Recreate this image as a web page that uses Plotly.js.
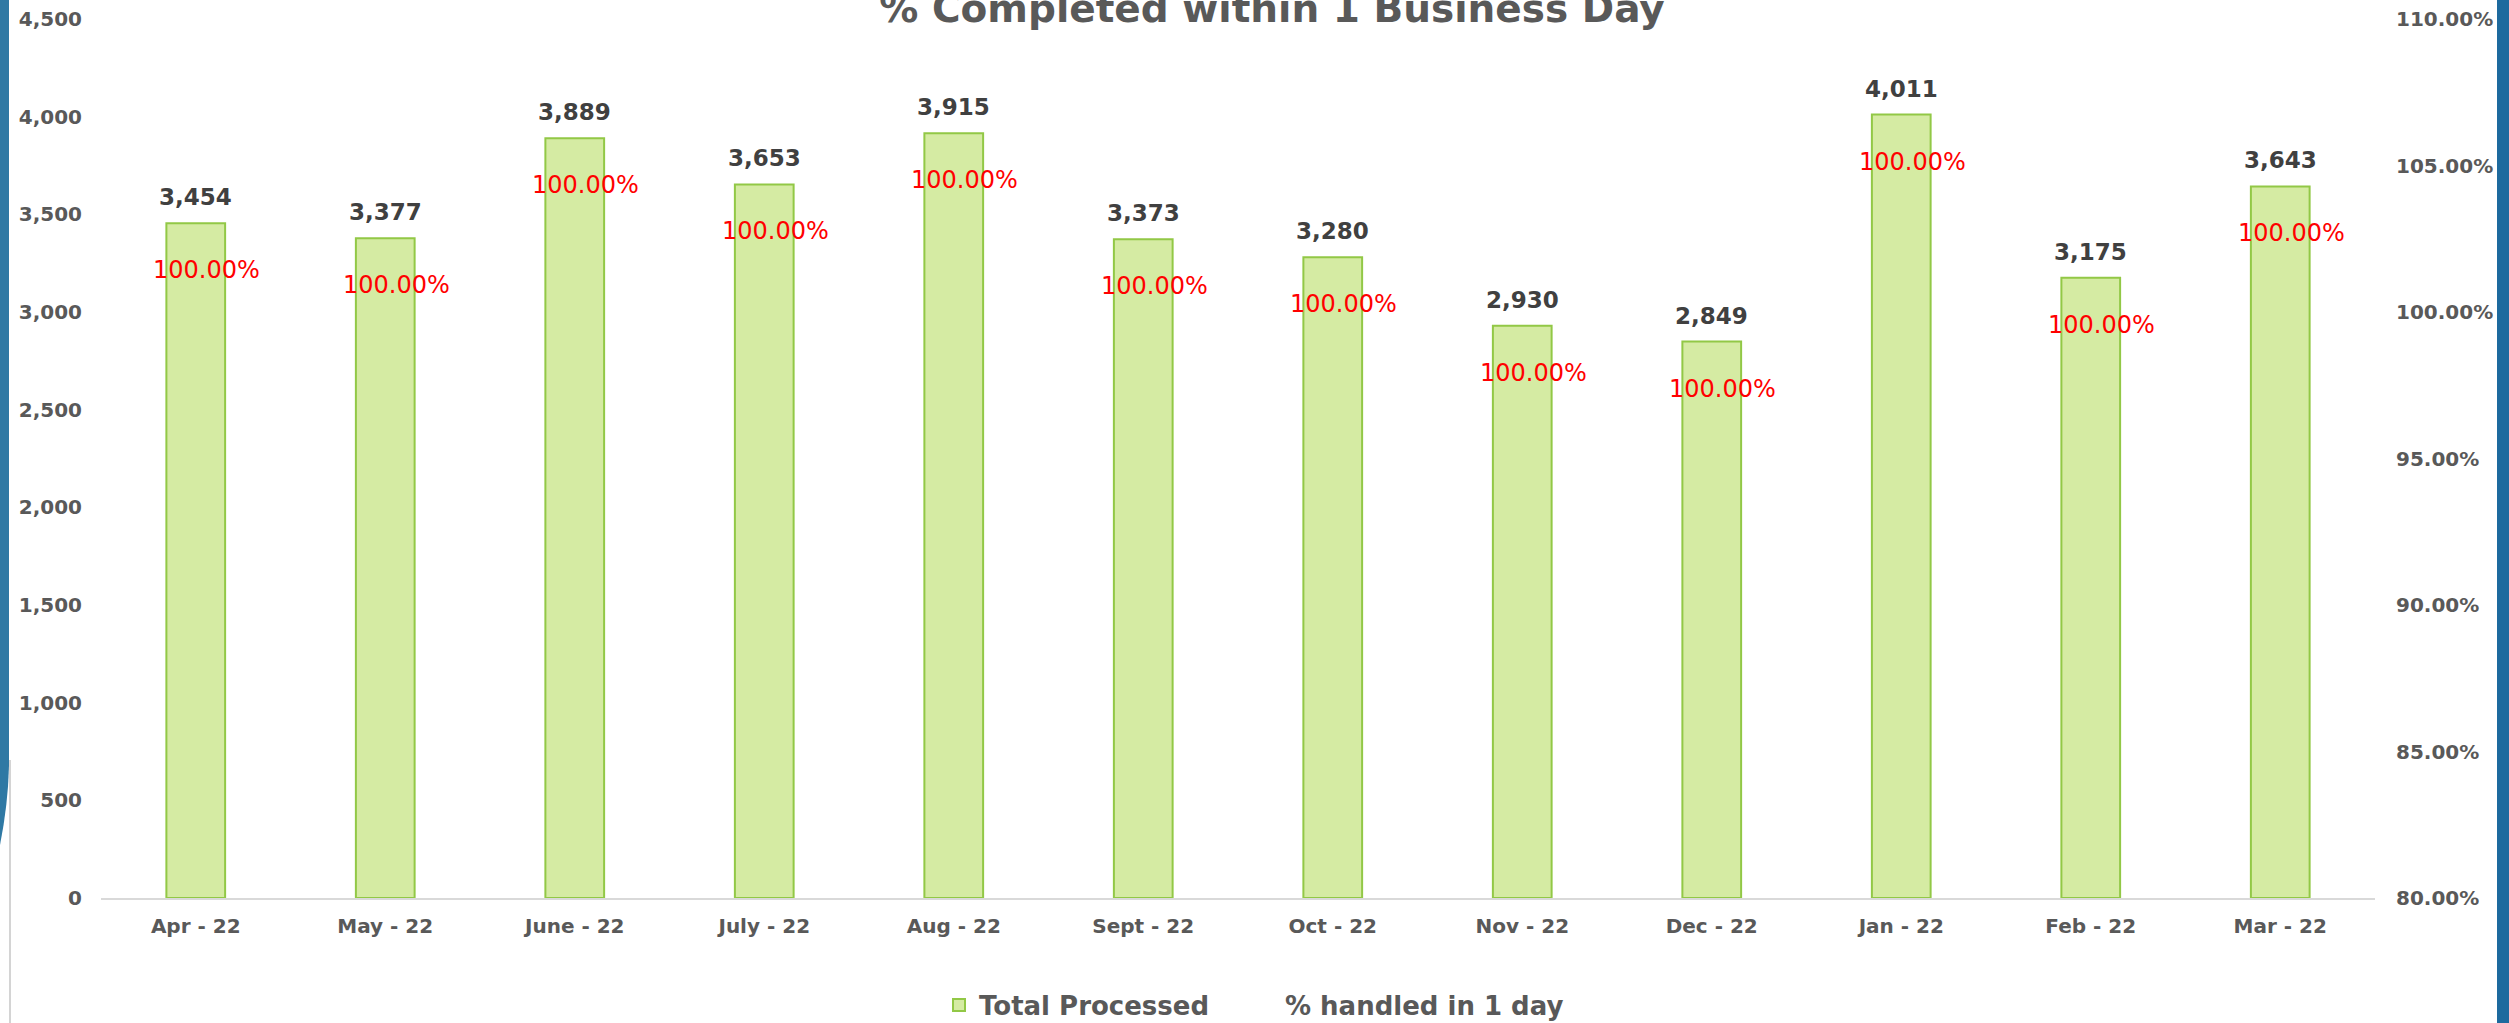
<!DOCTYPE html>
<html>
<head>
<meta charset="utf-8">
<script src="https://cdn.plot.ly/plotly-3.0.1.min.js"></script>
<style>html,body{margin:0;padding:0;background:#fff;}#chart{width:2509px;height:1023px;}</style>
</head>
<body>
<div id="chart"></div>
<script>
// ---- data ----
const months = ['Apr - 22','May - 22','June - 22','July - 22','Aug - 22','Sept - 22','Oct - 22','Nov - 22','Dec - 22','Jan - 22','Feb - 22','Mar - 22'];
const totalProcessed = [3454, 3377, 3889, 3653, 3915, 3373, 3280, 2930, 2849, 4011, 3175, 3643];
const pctHandled = [1, 1, 1, 1, 1, 1, 1, 1, 1, 1, 1, 1];
const seriesNames = ['Total Processed', '% handled in 1 day'];
const chartTitle = '% Completed within 1 Business Day';

// ---- geometry helpers (layout only) ----
const W = 2509, H = 1023;
const M = {l: 101, r: 134, t: 19, b: 125};
const PW = W - M.l - M.r, PH = H - M.t - M.b;
const px = v => (v - M.l) / PW;
const py = v => (H - M.b - v) / PH;

const FONT = 'DejaVu Sans, Verdana, sans-serif';
const GREY = '#595959';

const traces = [
  {
    type: 'bar', name: seriesNames[0], x: months, y: totalProcessed, legend: 'legend',
    marker: {color: '#D5EBA3', line: {color: '#92C846', width: 2}},
    hoverinfo: 'x+y'
  },
  {
    type: 'scatter', mode: 'lines', name: seriesNames[1], x: months, y: pctHandled, legend: 'legend2',
    yaxis: 'y2', line: {color: '#FF0000', width: 0}, hoverinfo: 'x+y'
  }
];

const annotations = [];
months.forEach((m, i) => {
  annotations.push({
    x: m, y: totalProcessed[i], xref: 'x', yref: 'y', showarrow: false,
    text: totalProcessed[i].toLocaleString('en-US'),
    yanchor: 'middle', yshift: 26,
    font: {family: FONT, size: 23, color: '#404040', weight: 'bold'}
  });
  annotations.push({
    x: m, y: totalProcessed[i], xref: 'x', yref: 'y', showarrow: false,
    text: (pctHandled[i] * 100).toFixed(2) + '%',
    yanchor: 'middle', yshift: -47, xshift: 11,
    font: {family: FONT, size: 24, color: '#FF0000'}
  });
});

const shapes = [
  // left blue frame strip
  {type: 'path', xref: 'paper', yref: 'paper',
   path: `M ${px(0)},${py(0)} L ${px(9)},${py(0)} L ${px(9)},${py(766)} Q ${px(8)},${py(805)} ${px(0)},${py(845)} Z`,
   fillcolor: '#2F79A4', line: {width: 0}, layer: 'above'},
  // thin grey frame line on left
  {type: 'line', xref: 'paper', yref: 'paper', x0: px(10), x1: px(10), y0: py(760), y1: py(1023),
   line: {color: '#D4D4D4', width: 2}},
  // right blue frame strip
  {type: 'rect', xref: 'paper', yref: 'paper', x0: px(2497), x1: px(2509), y0: py(0), y1: py(1023),
   fillcolor: '#1D6A9E', line: {width: 0}, layer: 'above'}
];

const legendFont = {family: FONT, size: 26, color: GREY, weight: 'bold'};

const layout = {
  width: W, height: H,
  margin: M,
  paper_bgcolor: '#fff', plot_bgcolor: '#fff',
  font: {family: FONT, color: GREY},
  title: {
    text: chartTitle, xref: 'container', x: 1272 / W, xanchor: 'center',
    yref: 'container', y: 1 - 22 / H, yanchor: 'bottom',
    font: {family: FONT, size: 39, color: GREY, weight: 'bold'}
  },
  bargap: 0.69,
  showlegend: true,
  legend: {
    orientation: 'h', xref: 'container', x: 939 / W, xanchor: 'left',
    yref: 'container', y: (H - 1005) / H, yanchor: 'middle',
    font: legendFont, itemwidth: 30
  },
  legend2: {
    orientation: 'h', xref: 'container', x: 1245 / W, xanchor: 'left',
    yref: 'container', y: (H - 1005) / H, yanchor: 'middle',
    font: legendFont, itemwidth: 30
  },
  xaxis: {
    type: 'category', showline: true, linecolor: '#D9D9D9', linewidth: 2,
    ticks: '', showgrid: false, zeroline: false, ticklabelstandoff: 9,
    tickfont: {family: FONT, size: 20, color: GREY, weight: 'bold'}
  },
  yaxis: {
    range: [0, 4500], dtick: 500, tick0: 0, tickformat: ',d',
    showline: false, showgrid: false, zeroline: false, ticks: '',
    ticklabelstandoff: 18,
    tickfont: {family: FONT, size: 20, color: GREY, weight: 'bold'}
  },
  yaxis2: {
    overlaying: 'y', side: 'right', range: [0.8, 1.1], dtick: 0.05, tick0: 0.8,
    tickformat: '.2%', showline: false, showgrid: false, zeroline: false, ticks: '',
    ticklabelstandoff: 20,
    tickfont: {family: FONT, size: 20, color: GREY, weight: 'bold'}
  },
  annotations: annotations,
  shapes: shapes
};

Plotly.newPlot('chart', traces, layout, {displayModeBar: false, responsive: false});
</script>
</body>
</html>
